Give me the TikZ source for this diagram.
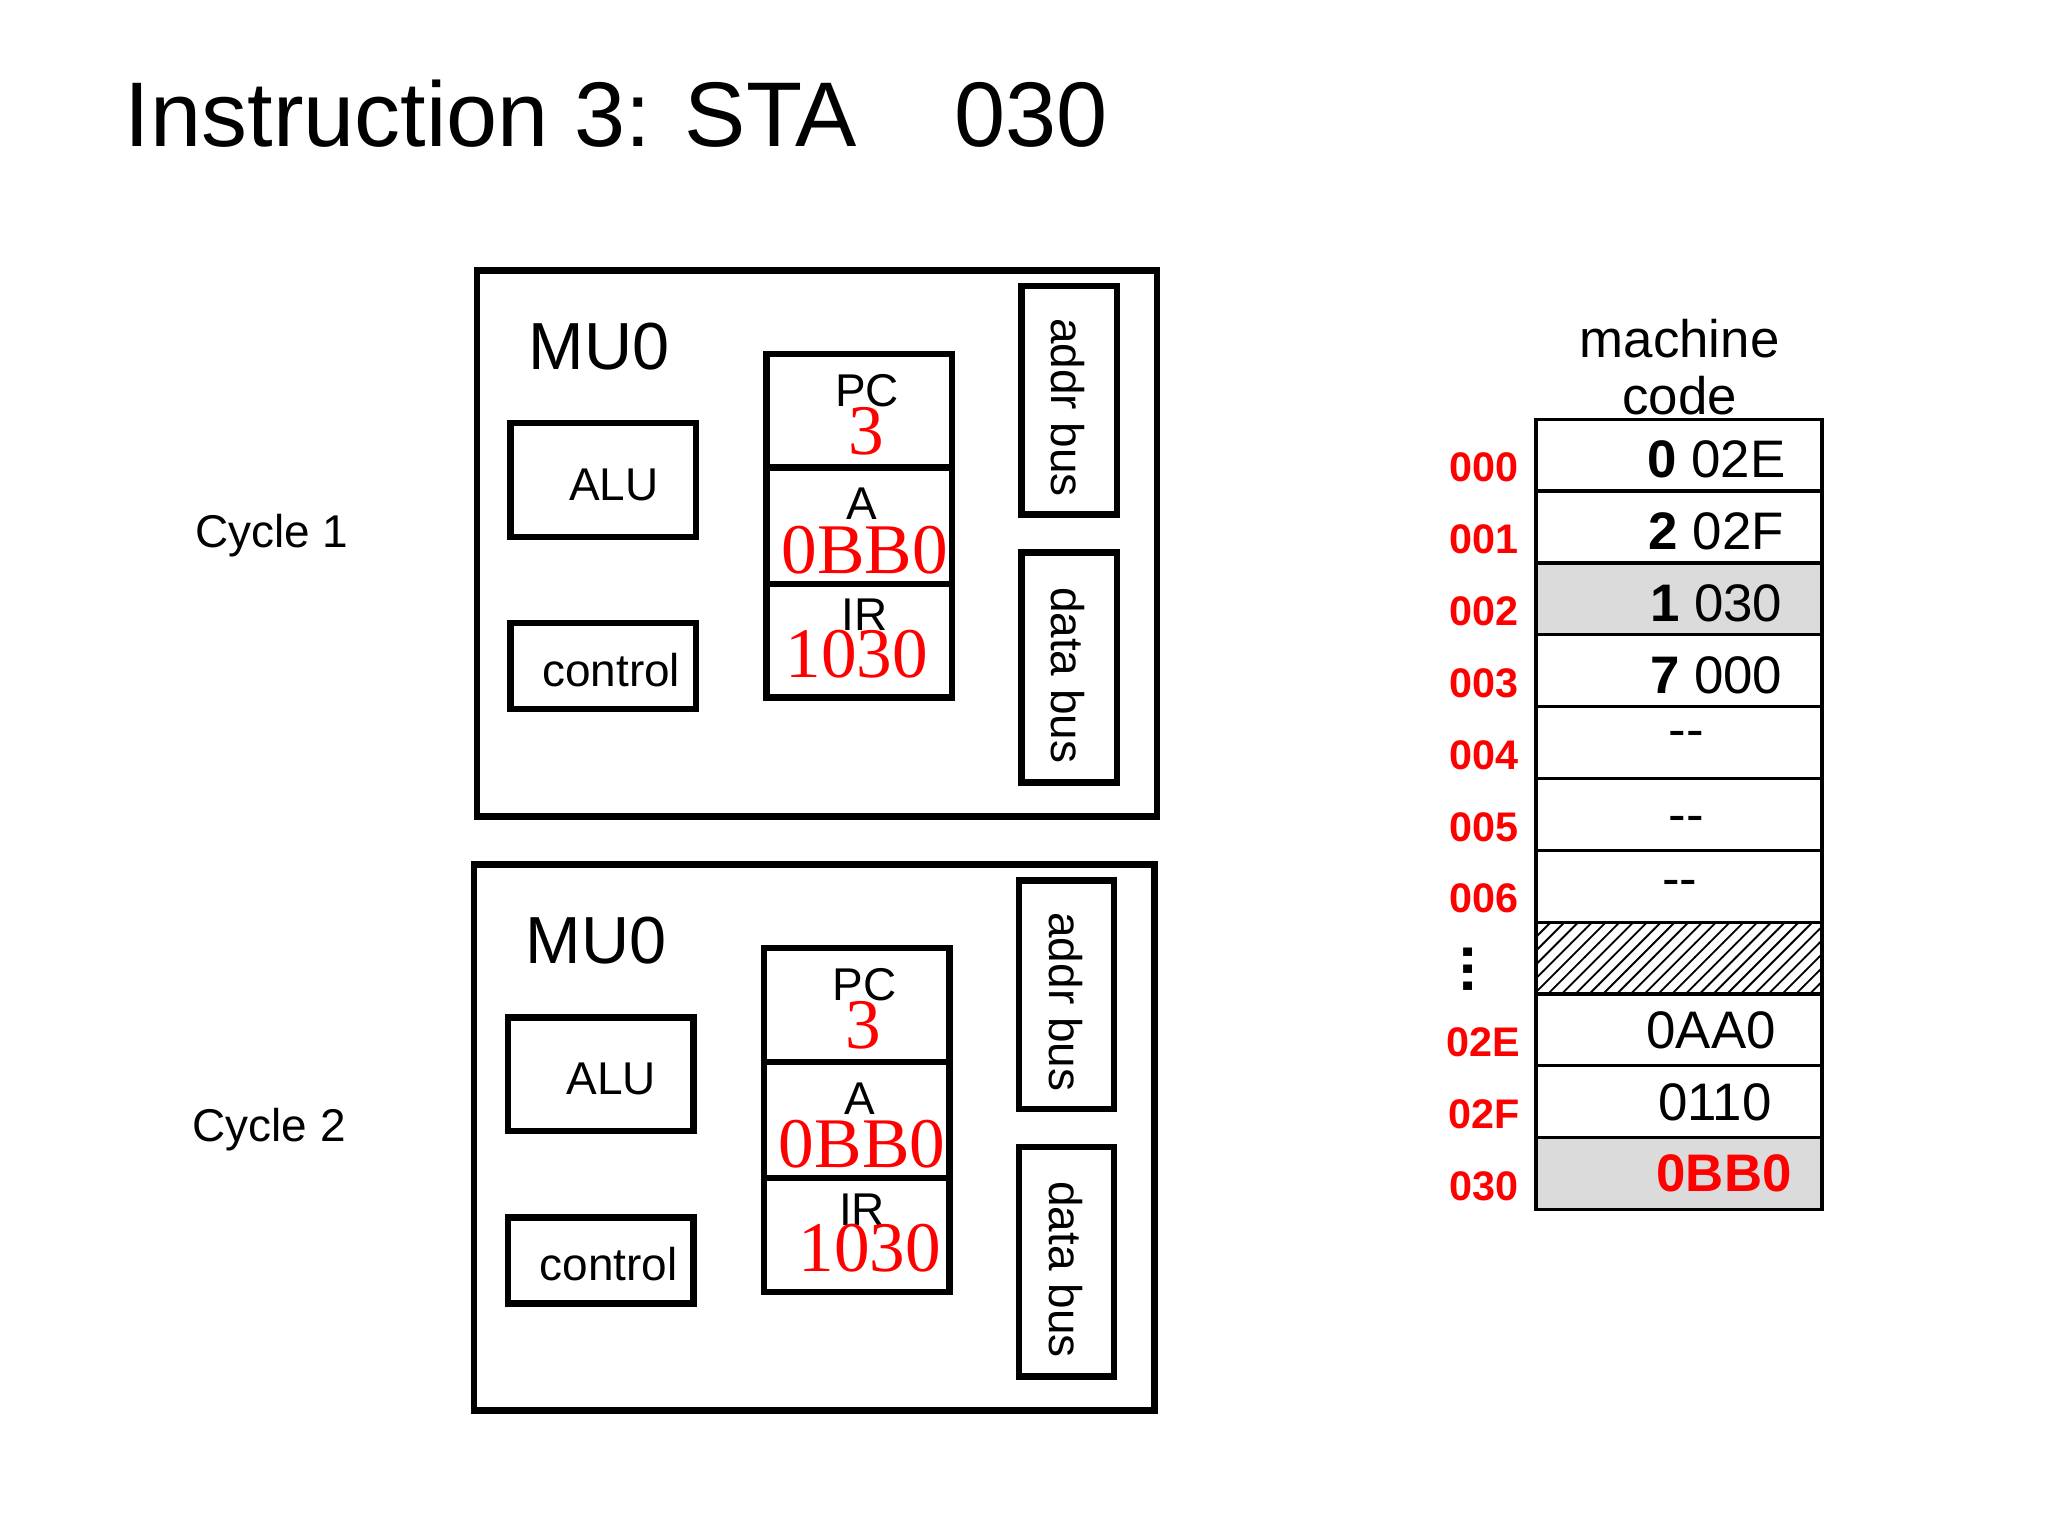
\documentclass[tikz,border=0pt]{standalone}
\usepackage{fontspec}
\setmainfont{Liberation Sans}
\newfontfamily\valfont{Liberation Serif}
\usetikzlibrary{patterns}

\tikzset{
  unit/.style={draw,line width=1.4pt,inner sep=0pt},
  val/.style={red,inner sep=0pt,font=\valfont\fontsize{15.5}{15.5}\selectfont},
  lbl/.style={inner sep=0pt,font=\fontsize{10}{10}\selectfont},
  cell/.style={draw,line width=0.7pt},
  addr/.style={red,font=\bfseries\fontsize{9}{9}\selectfont},
  word/.style={font=\fontsize{11.5}{11.5}\selectfont}
}

\begin{document}
\begin{tikzpicture}[x=0.01cm,y=-0.01cm]
  \useasboundingbox (0,0) rectangle (1568,1176);
  \node[anchor=base west,inner sep=0pt,font=\fontsize{20}{20}\selectfont] (title) at (95,112)
    {Instruction 3: STA\hspace{0.75cm}030};

  % two cycles of MU0
  \foreach \c/\dx/\dy in {1/0/0,2/-2/455} {
    \begin{scope}[shift={(\dx,\dy)}]
      \node[lbl,anchor=center] (cyc\c) at (208,410) {Cycle \c};
      \draw[unit] (365,207) rectangle (886,625);
      \node[anchor=base west,inner sep=0pt,font=\fontsize{14.5}{14.5}\selectfont] (mu\c) at (404,283) {MU0};
      \draw[unit] (391,324) rectangle (533,411);
      \node[lbl] (alu\c) at (470,371) {ALU};
      \draw[unit] (391,477) rectangle (533,543);
      \node[lbl] (ctl\c) at (468,513) {control};
      \draw[unit] (587,271) rectangle (729,534);
      \draw[line width=1.4pt] (587,358) -- (729,358) (587,447) -- (729,447);
      \node[lbl] (pc\c) at (664,299) {PC};
      \node[val] (pcv\c) at (663,330) {3};
      \node[lbl] (a\c) at (660,386) {A};
      \node[val] (av\c) at (662,421) {0BB0};
      \node[lbl] (ir\c) at (662,471) {IR};
      \node[val] (irv\c) at (\c*12+644,501) {1030};
      \draw[unit] (782,219) rectangle (855,394);
      \node[lbl,rotate=-90] (ab\c) at (818,312) {addr bus};
      \draw[unit] (782,423) rectangle (855,599);
      \node[lbl,rotate=-90] (db\c) at (818,517) {data bus};
    \end{scope}
  }

  % memory
  \node[word,align=center] (mc) at (1286,281) {machine\\[1pt]code};
  \fill[black!14] (1176,431) rectangle (1395,486);
  \fill[black!14] (1176,871) rectangle (1395,926);
  \fill[pattern=north east lines] (1176,706) rectangle (1395,761);
  \draw[cell] (1176,321) rectangle (1395,926);
  \foreach \y in {376,431,...,871} \draw[cell] (1176,\y) -- (1395,\y);
  \foreach \a/\y in {000/358,001/413,002/468,003/523,004/578,005/633,006/688,02E/798,02F/853,030/908}
    \node[addr] (m\a) at (1136,\y) {\a};
  \node[font=\bfseries\fontsize{13}{13}\selectfont] (dots) at (1124,742) {\rotatebox{90}{...}};
  \node[word] (w0) at (1314,352) {\textbf{0} 02E};
  \node[word] (w1) at (1314,407) {\textbf{2} 02F};
  \node[word] (w2) at (1314,462) {\textbf{1} 030};
  \node[word] (w3) at (1314,517) {\textbf{7} 000};
  \node[word] (w4) at (1291,566) {{-}{-}};
  \node[word] (w5) at (1291,631) {{-}{-}};
  \node[word] (w6) at (1286,680) {{-}{-}};
  \node[word] (w7) at (1310,789) {0AA0};
  \node[word] (w8) at (1313,844) {0110};
  \node[word,red,font=\bfseries\fontsize{11.5}{11.5}\selectfont] (w9) at (1320,898) {0BB0};
\end{tikzpicture}
\end{document}
